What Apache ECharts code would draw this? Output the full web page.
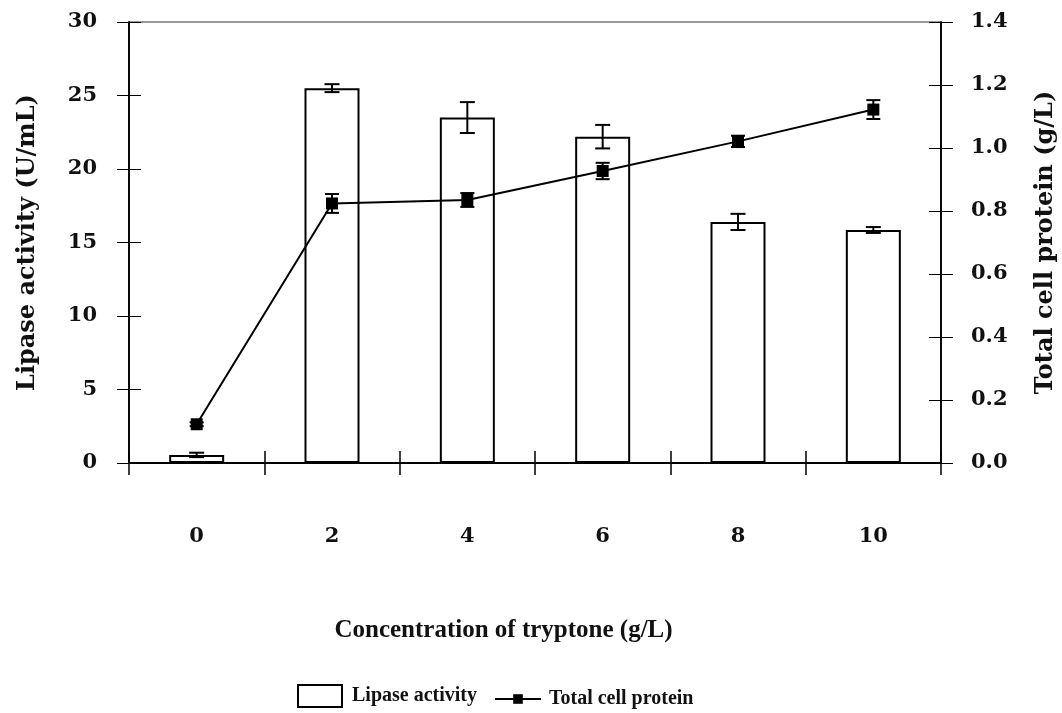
<!DOCTYPE html>
<html>
<head>
<meta charset="utf-8">
<script src="https://cdn.jsdelivr.net/npm/echarts@6/dist/echarts.min.js"></script>
<style>html,body{margin:0;padding:0;background:#fff;}#c{width:1062px;height:713px;}</style>
</head>
<body>
<div id="c"></div>
<script>
var categories = ['0', '2', '4', '6', '8', '10'];
var lipase = [0.55, 25.5, 23.5, 22.2, 16.4, 15.85];
var lipaseErr = [0.15, 0.27, 1.05, 0.8, 0.55, 0.2];
var protein = [0.123, 0.824, 0.835, 0.927, 1.021, 1.122];
var proteinErr = [0.006, 0.03, 0.022, 0.026, 0.018, 0.03];
var leftTicks = {min: 0, max: 30, interval: 5};
var rightTicks = {min: 0, max: 1.4, interval: 0.2};

var WIDE = '"DejaVu Serif", serif';
var TIMES = '"Liberation Serif", serif';
var tickFont = {fontFamily: WIDE, fontWeight: 'bold', fontSize: 21, color: '#111'};
var nameFontWide = {fontFamily: WIDE, fontWeight: 'bold', fontSize: 24, color: '#111'};
var nameFontTimes = {fontFamily: TIMES, fontWeight: 'bold', fontSize: 25, color: '#111'};

function errData(vals, errs) {
  return vals.map(function (v, i) { return [i, v - errs[i], v + errs[i]]; });
}
function errRender(capHalf) {
  return function (params, api) {
    var i = api.value(0);
    var lo = api.coord([i, api.value(1)]);
    var hi = api.coord([i, api.value(2)]);
    var st = {stroke: '#000', lineWidth: 2};
    return {type: 'group', children: [
      {type: 'line', shape: {x1: lo[0], y1: lo[1], x2: hi[0], y2: hi[1]}, style: st},
      {type: 'line', shape: {x1: lo[0] - capHalf, y1: lo[1], x2: lo[0] + capHalf, y2: lo[1]}, style: st},
      {type: 'line', shape: {x1: hi[0] - capHalf, y1: hi[1], x2: hi[0] + capHalf, y2: hi[1]}, style: st}
    ]};
  };
}

var axLine = {show: true, lineStyle: {color: '#000', width: 1.5}};
var chart = echarts.init(document.getElementById('c'), null, {renderer: 'canvas'});
chart.setOption({
  animation: false,
  backgroundColor: '#fff',
  grid: {left: 129, right: 121, top: 22, bottom: 250, outerBoundsMode: 'none', containLabel: false,
         show: true, borderColor: '#333', borderWidth: 1, backgroundColor: 'transparent'},
  legend: [
    {left: 297, top: 684, itemWidth: 44, itemHeight: 22, itemGap: 10,
     data: [{name: 'Lipase activity', icon: 'rect', itemStyle: {color: '#fff', borderColor: '#000', borderWidth: 2}}],
     textStyle: {fontFamily: TIMES, fontWeight: 'bold', fontSize: 20, color: '#111', padding: [2, 0, 0, 5]}, padding: 0},
    {left: 494, top: 689, itemWidth: 46, itemHeight: 12, itemGap: 10,
     data: [{name: 'Total cell protein'}],
     textStyle: {fontFamily: TIMES, fontWeight: 'bold', fontSize: 20, color: '#111', padding: [0, 0, 0, 3]}, padding: 0}
  ],
  xAxis: [
    {type: 'category', data: categories, position: 'bottom',
     axisLine: {show: true, lineStyle: {color: '#000', width: 2}},
     axisTick: {show: true, inside: false, length: 12, lineStyle: {color: '#000', width: 1.5}},
     axisLabel: Object.assign({margin: 63}, tickFont),
     splitLine: {show: false},
     name: 'Concentration of tryptone (g/L)', nameLocation: 'middle', nameGap: 155,
     nameTextStyle: Object.assign({padding: [0, 63, 0, 0]}, nameFontTimes)},
    {type: 'category', data: categories, position: 'bottom',
     axisLine: {show: true, lineStyle: {color: '#000', width: 2}},
     axisTick: {show: true, inside: true, length: 12, lineStyle: {color: '#000', width: 1.5}},
     axisLabel: {show: false}, splitLine: {show: false}}
  ],
  yAxis: [
    Object.assign({type: 'value', position: 'left', axisLine: axLine,
     axisTick: {show: true, inside: false, length: 12, lineStyle: {color: '#000', width: 1}},
     axisLabel: Object.assign({margin: 32}, tickFont),
     splitLine: {show: false},
     name: 'Lipase activity (U/mL)', nameLocation: 'middle', nameGap: 89, nameRotate: 90,
     nameTextStyle: nameFontWide}, leftTicks),
    Object.assign({type: 'value', position: 'right', axisLine: axLine,
     axisTick: {show: true, inside: false, length: 12, lineStyle: {color: '#000', width: 1}},
     axisLabel: Object.assign({margin: 30, formatter: function (v) { return v.toFixed(1); }}, tickFont),
     splitLine: {show: false},
     name: 'Total cell protein (g/L)', nameLocation: 'middle', nameGap: 93, nameRotate: 90,
     nameTextStyle: nameFontWide}, rightTicks),
    Object.assign({type: 'value', position: 'left', axisLine: axLine,
     axisTick: {show: true, inside: true, length: 12, lineStyle: {color: '#000', width: 1}},
     axisLabel: {show: false}, splitLine: {show: false}}, leftTicks),
    Object.assign({type: 'value', position: 'right', axisLine: axLine,
     axisTick: {show: true, inside: true, length: 12, lineStyle: {color: '#000', width: 1}},
     axisLabel: {show: false}, splitLine: {show: false}}, rightTicks)
  ],
  series: [
    {name: 'Lipase activity', type: 'bar', data: lipase, barWidth: 55, xAxisIndex: 0, yAxisIndex: 0,
     itemStyle: {color: '#fff', borderColor: '#000', borderWidth: 2}, z: 2},
    {name: 'lipaseErr', type: 'custom', xAxisIndex: 0, yAxisIndex: 0, data: errData(lipase, lipaseErr),
     renderItem: errRender(7.5), z: 3, encode: {x: 0, y: [1, 2]}},
    {name: 'Total cell protein', type: 'line', data: protein, xAxisIndex: 0, yAxisIndex: 1,
     symbol: 'rect', symbolSize: 12, showSymbol: true,
     lineStyle: {color: '#000', width: 2}, itemStyle: {color: '#000'}, z: 5},
    {name: 'proteinErr', type: 'custom', xAxisIndex: 0, yAxisIndex: 1, data: errData(protein, proteinErr),
     renderItem: errRender(7), z: 6, encode: {x: 0, y: [1, 2]}}
  ]
});
</script>
</body>
</html>
